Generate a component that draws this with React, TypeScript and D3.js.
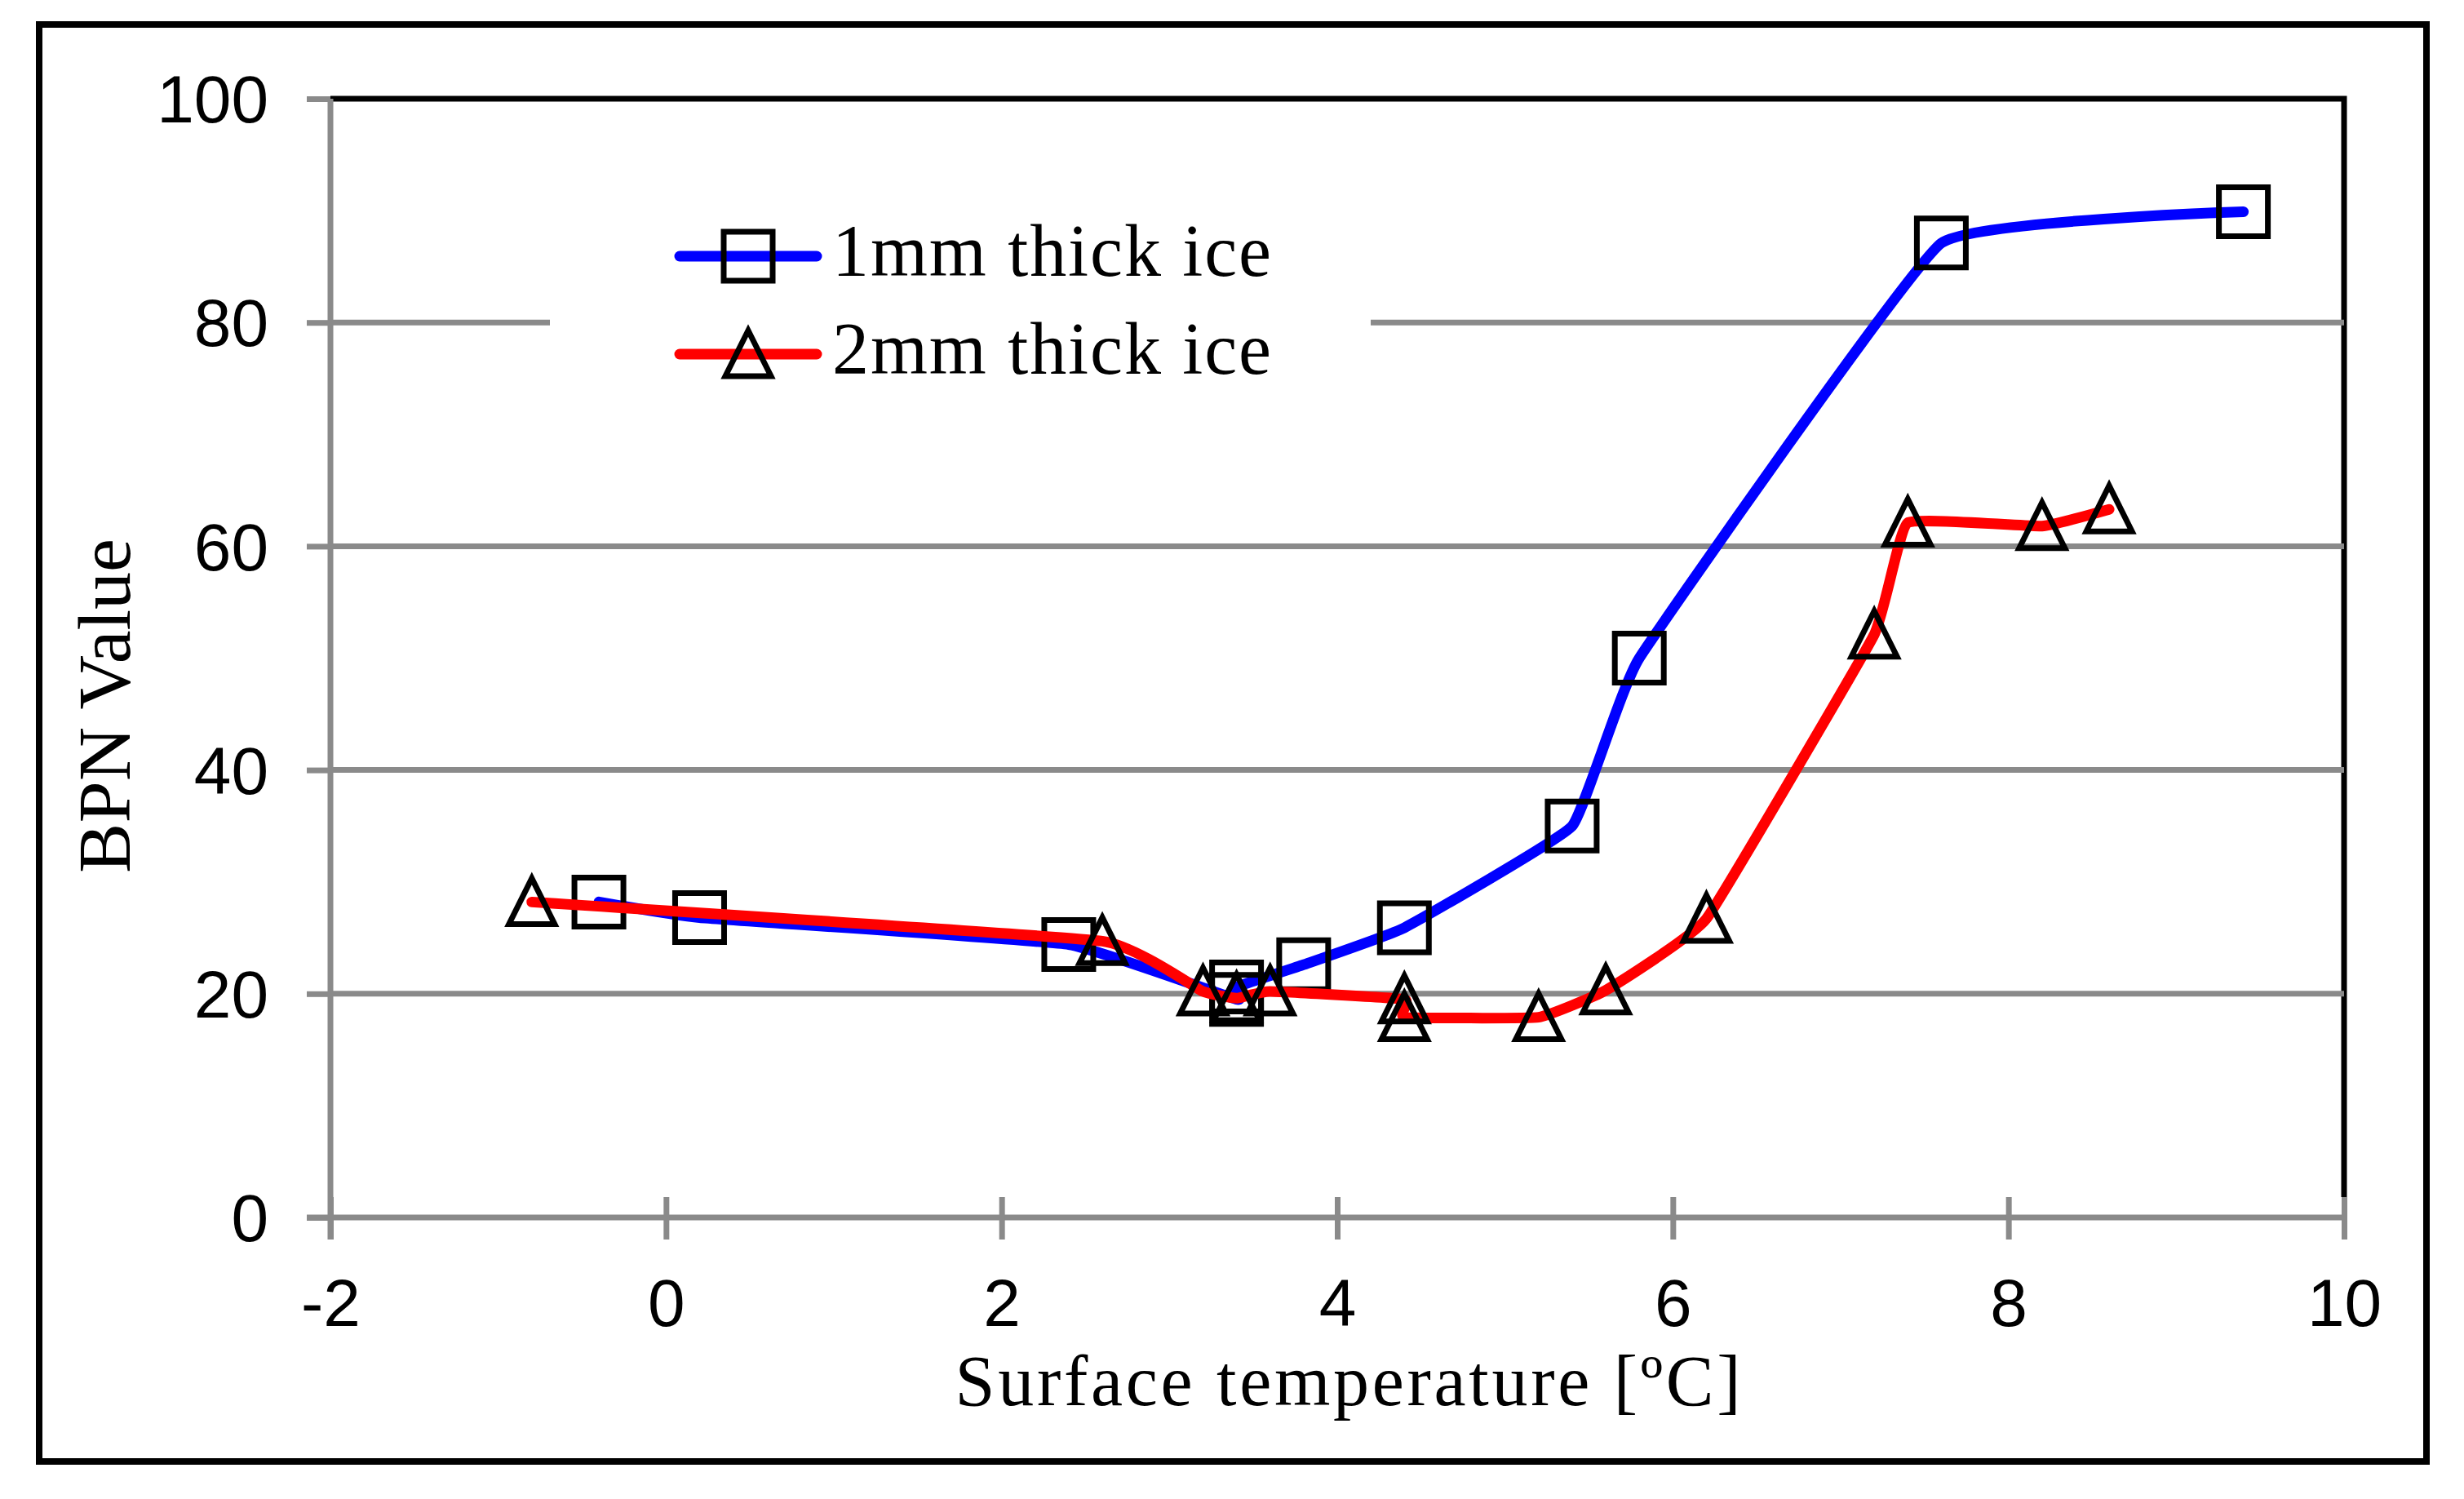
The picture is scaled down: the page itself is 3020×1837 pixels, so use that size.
import { useEffect, useRef } from 'react';
import * as d3 from 'd3';

// 1mm thick ice
const thinTemp = [-0.4, 0.2, 2.4, 3.4, 3.4, 3.8, 4.4, 5.4, 5.8, 7.6, 9.4];
const thinBpn  = [28.2, 26.8, 24.4, 19.5, 20.6, 22.6, 25.9, 35.0, 50.0, 87.1, 89.9];

// 2mm thick ice
const thickTemp = [-0.8, 2.6, 3.2, 3.4, 3.6, 4.4, 4.4, 5.2, 5.6, 6.2, 7.2, 7.4, 8.2, 8.6];
const thickBpn  = [28.2, 24.7, 20.2, 19.6, 20.2, 19.5, 17.9, 17.9, 20.3, 26.7, 52.1, 62.1, 61.8, 63.3];

const xTicks = [-2, 0, 2, 4, 6, 8, 10];
const yTicks = [0, 20, 40, 60, 80, 100];
const seriesNames = ['1mm thick ice', '2mm thick ice'];

const W = 3020, H = 1837;
const GRAY = '#8a8a8a';
const SERIF = '"Liberation Serif", "Times New Roman", serif';
const SANS = '"Liberation Sans", Arial, sans-serif';

export default function App() {
  const svgRef = useRef<SVGSVGElement>(null);

  useEffect(() => {
    if (!svgRef.current) return;
    const svg = d3.select(svgRef.current);
    svg.selectAll('*').remove();

    const x = d3.scaleLinear().domain([-2, 10]).range([405, 2873]);
    const y = d3.scaleLinear().domain([0, 100]).range([1492, 121]);
    const [x0, x1] = x.range();
    const [yb, yt] = y.range();

    svg.append('rect').attr('width', W).attr('height', H).attr('fill', '#fff');

    // outer frame
    svg.append('rect')
      .attr('x', 48).attr('y', 30).attr('width', 2926).attr('height', 1761)
      .attr('fill', 'none').attr('stroke', '#000').attr('stroke-width', 8);

    // plot area border (top + right)
    svg.append('path')
      .attr('d', `M${x0},${yt}H${x1}V${yb - 25}`)
      .attr('fill', 'none').attr('stroke', '#000').attr('stroke-width', 7);

    // gridlines
    svg.append('g').selectAll('line')
      .data(yTicks.filter(t => t > 0 && t < 100))
      .enter().append('line')
      .attr('x1', x0).attr('x2', x1)
      .attr('y1', d => y(d)).attr('y2', d => y(d))
      .attr('stroke', GRAY).attr('stroke-width', 7);

    // y axis
    const gy = svg.append('g').attr('transform', `translate(${x0},0)`)
      .call(d3.axisLeft(y).tickValues(yTicks).tickSize(29).tickPadding(47).tickFormat(d => String(d)));
    gy.select('.domain').attr('stroke', GRAY).attr('stroke-width', 7)
      .attr('d', `M0,${yt}V${yb + 27}`);
    gy.selectAll('.tick line').attr('stroke', GRAY).attr('stroke-width', 7);
    gy.selectAll('.tick text')
      .attr('font-family', SANS).attr('font-size', 82).attr('fill', '#000')
      .attr('dy', '0.35em');

    // x axis
    const gx = svg.append('g').attr('transform', `translate(0,${yb})`)
      .call(d3.axisBottom(x).tickValues(xTicks).tickSize(27).tickPadding(48).tickFormat(d => String(d)));
    gx.select('.domain').attr('stroke', GRAY).attr('stroke-width', 7)
      .attr('d', `M${x0 - 29},0H${x1}`);
    gx.selectAll('.tick line').attr('stroke', GRAY).attr('stroke-width', 7).attr('y1', -25);
    gx.selectAll('.tick text')
      .attr('font-family', SANS).attr('font-size', 82).attr('fill', '#000')
      .attr('dy', '0.71em');

    // axis titles
    svg.append('text')
      .attr('x', 1652).attr('y', 1722).attr('text-anchor', 'middle')
      .attr('font-family', SERIF).attr('font-size', 88)
      .attr('textLength', 963).attr('lengthAdjust', 'spacing')
      .text('Surface temperature [ºC]');
    svg.append('text')
      .attr('transform', 'translate(159,865) rotate(-90)').attr('text-anchor', 'middle')
      .attr('font-family', SERIF).attr('font-size', 92)
      .text('BPN Value');

    const line = d3.line<[number, number]>()
      .x(d => x(d[0])).y(d => y(d[1]))
      .curve(d3.curveCardinal.tension(0.7));

    const square = 'M-30,-30H30V30H-30Z';
    const triangle = 'M0,-29L28,27H-28Z';

    const series = [
      { pts: thinTemp.map((t, i) => [t, thinBpn[i]] as [number, number]), color: '#0000ff', marker: square },
      { pts: thickTemp.map((t, i) => [t, thickBpn[i]] as [number, number]), color: '#ff0000', marker: triangle },
    ];

    // legend background hides the 80 gridline
    svg.append('rect').attr('x', 674).attr('y', 240).attr('width', 1006).attr('height', 260).attr('fill', '#fff');

    series.forEach(s => {
      svg.append('path').attr('d', line(s.pts))
        .attr('fill', 'none').attr('stroke', s.color).attr('stroke-width', 13)
        .attr('stroke-linejoin', 'round').attr('stroke-linecap', 'round');
      svg.append('g').selectAll('path')
        .data(s.pts).enter().append('path')
        .attr('transform', d => `translate(${x(d[0])},${y(d[1])})`)
        .attr('d', s.marker)
        .attr('fill', 'none').attr('stroke', '#000').attr('stroke-width', 7)
        .attr('stroke-linejoin', 'miter');
    });

    // legend
    const legendY = [314, 434];
    series.forEach((s, i) => {
      const g = svg.append('g').attr('transform', `translate(0,${legendY[i]})`);
      g.append('line').attr('x1', 833).attr('x2', 1001)
        .attr('stroke', s.color).attr('stroke-width', 13).attr('stroke-linecap', 'round');
      g.append('path').attr('transform', 'translate(917,0)').attr('d', s.marker)
        .attr('fill', 'none').attr('stroke', '#000').attr('stroke-width', 7);
      g.append('text').attr('x', 1020).attr('y', 24)
        .attr('font-family', SERIF).attr('font-size', 90)
        .attr('textLength', 538).attr('lengthAdjust', 'spacing')
        .text(seriesNames[i]);
    });
  }, []);

  return (
    <div style={{ position: 'absolute', left: 0, top: 0 }}>
      <svg ref={svgRef} width={W} height={H} style={{ display: 'block' }} />
    </div>
  );
}
